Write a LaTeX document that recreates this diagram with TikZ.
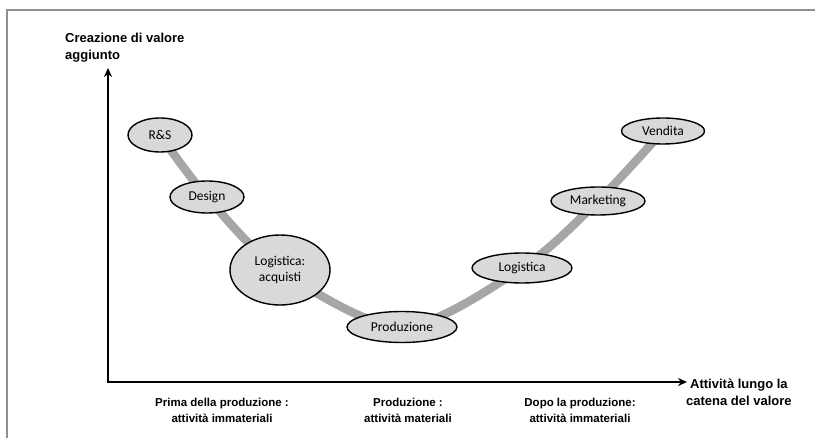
\documentclass[tikz,border=0pt]{standalone}
\usepackage{fontspec}
\setmainfont{Carlito}
\newfontfamily\labfont{Liberation Sans}
\usetikzlibrary{shapes.geometric,arrows.meta,backgrounds}
\definecolor{nodefill}{HTML}{D9D9D9}
\definecolor{bandgray}{HTML}{A6A6A6}
\definecolor{framegray}{HTML}{8F8F8F}
\tikzset{
  act/.style={ellipse, draw=black, line width=1.4pt, fill=nodefill, inner sep=0pt,
    font=\fontsize{13.5}{16}\selectfont, align=center},
  axis/.style={line width=2.2pt, {Stealth[length=9pt,width=8pt]}-{Stealth[length=9pt,width=8pt]}},
  lab/.style={font=\labfont\bfseries\fontsize{11.5}{16}\selectfont, align=center, inner sep=0pt},
  biglab/.style={lab, font=\labfont\bfseries\fontsize{13}{17}\selectfont},
  band/.style={line width=8.5pt, bandgray},
  frameline/.style={line width=2pt, framegray}
}
\begin{document}
\begin{tikzpicture}[x=1pt,y=-1pt]
\useasboundingbox (0,0) rectangle (815,438);
% frame
\coordinate (fbl) at (7,438);
\coordinate (ftl) at (7,10);
\coordinate (ftr) at (815,10);
\draw[frameline] (fbl) -- (ftl) -- (ftr);
% nodes
\node[act, minimum width=64pt, minimum height=34pt] (rs) at (160,135) {R\&S};
\node[act, minimum width=74pt, minimum height=32pt] (design) at (207,197) {Design};
\node[act, minimum width=100pt, minimum height=70pt] (acq) at (280,270) {Logistica:\\acquisti};
\node[act, minimum width=110pt, minimum height=31pt] (prod) at (402,327) {Produzione};
\node[act, minimum width=100pt, minimum height=30pt] (log) at (522,268) {Logistica};
\node[act, minimum width=94pt, minimum height=28pt] (mkt) at (598,201) {Marketing};
\node[act, minimum width=83pt, minimum height=26pt] (vend) at (663,131) {Vendita};
\begin{scope}[on background layer]
\draw[band] plot[smooth, tension=0.5] coordinates {(rs) (design) (acq) (prod) (log) (mkt) (vend)};
\end{scope}
% axes
\coordinate (origin) at (108,382);
\coordinate (ytip) at (108,68);
\coordinate (xtip) at (687,382);
\draw[axis] (ytip) -- (origin) -- (xtip);
% labels
\node[biglab, anchor=north west, align=left] (ylab) at (65,33) {Creazione di valore\\aggiunto};
\node[biglab, anchor=west, align=center] (xlab) at (686,392) {Attività lungo la\\catena del valore};
\node[lab] (l1) at (222,410) {Prima della produzione :\\attività immateriali};
\node[lab] (l2) at (408,410) {Produzione :\\attività materiali};
\node[lab] (l3) at (580,410) {Dopo la produzione:\\attività immateriali};
\end{tikzpicture}
\end{document}
